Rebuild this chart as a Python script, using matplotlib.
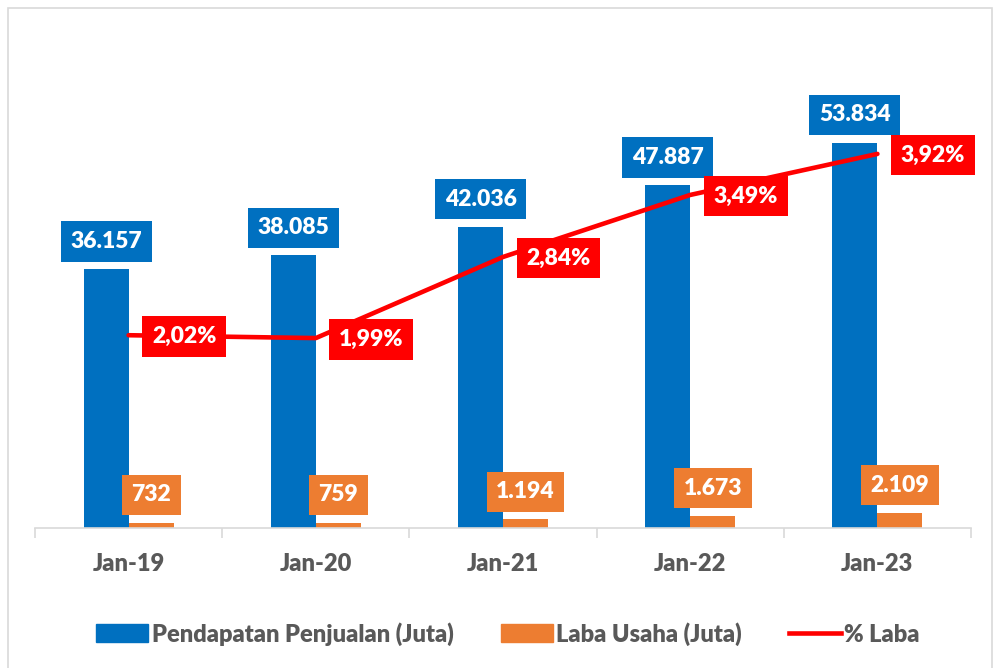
import matplotlib
matplotlib.use('Agg')
import matplotlib.pyplot as plt
import numpy as np
from matplotlib.patches import Rectangle
from matplotlib.lines import Line2D
from matplotlib.patches import Patch

plt.rcParams['font.family'] = ['Lato', 'DejaVu Sans']
plt.rcParams['font.weight'] = 'bold'

# data
categories = ["Jan-19", "Jan-20", "Jan-21", "Jan-22", "Jan-23"]
pendapatan = [36157, 38085, 42036, 47887, 53834]
laba = [732, 759, 1194, 1673, 2109]
persen_laba = [2.02, 1.99, 2.84, 3.49, 3.92]
pendapatan_labels = ["36.157", "38.085", "42.036", "47.887", "53.834"]
laba_labels = ["732", "759", "1.194", "1.673", "2.109"]
persen_labels = ["2,02%", "1,99%", "2,84%", "3,49%", "3,92%"]

BLUE = "#0070C0"
ORANGE = "#ED7D31"
RED = "#FF0000"
GREY = "#595959"

fig = plt.figure(figsize=(10, 6.68), dpi=100)
# outer chart border
fig.add_artist(Rectangle((0.008, -0.01), 0.984, 0.998, transform=fig.transFigure,
                         fill=False, edgecolor="#D9D9D9", linewidth=1.2))

ax = fig.add_axes([0.035, 0.2096, 0.936, 0.75])
x = np.arange(len(categories))
w = 0.24

ax.bar(x - w / 2, pendapatan, width=w, color=BLUE, zorder=2)
ax.bar(x + w / 2, laba, width=w, color=ORANGE, zorder=2)
ax.set_xlim(-0.5, len(categories) - 0.5)
ax.set_ylim(0, 70000)

box = "square,pad=0.42"
for xi, v, lab in zip(x - w / 2, pendapatan, pendapatan_labels):
    ax.annotate(lab, (xi, v), xytext=(0, 20), textcoords="offset points",
                ha="center", va="center", color="white", fontsize=16.5, fontweight="heavy",
                bbox=dict(boxstyle=box, fc=BLUE, ec="none"), zorder=5)
for xi, v, lab in zip(x + w / 2, laba, laba_labels):
    ax.annotate(lab, (xi, v), xytext=(0, 20), textcoords="offset points",
                ha="center", va="center", color="white", fontsize=16.5, fontweight="heavy",
                bbox=dict(boxstyle=box, fc=ORANGE, ec="none"), zorder=5)

# spines / ticks
for s in ["top", "right", "left"]:
    ax.spines[s].set_visible(False)
ax.spines["bottom"].set_color("#D9D9D9")
ax.spines["bottom"].set_linewidth(1.2)
ax.set_yticks([])
ax.set_xticks(x)
ax.set_xticklabels(categories, color=GREY, fontsize=17, fontweight="heavy")
ax.tick_params(axis="x", which="major", length=0, pad=18)
ax.set_xticks(np.arange(-0.5, len(categories)), minor=True)
ax.tick_params(axis="x", which="minor", length=7, color="#D9D9D9", width=1.2)

ax2 = ax.twinx()
ax2.set_ylim(0, 5.25)
ax2.plot(x, persen_laba, color=RED, linewidth=3.3, solid_capstyle="round", zorder=3)
for xi, v, lab in zip(x, persen_laba, persen_labels):
    ax2.annotate(lab, (xi, v), xytext=(40, -1), textcoords="offset points",
                 ha="center", va="center", color="white", fontsize=16.5, fontweight="heavy",
                 bbox=dict(boxstyle=box, fc=RED, ec="none"), zorder=6)
ax2.set_yticks([])
for s in ["top", "right", "left", "bottom"]:
    ax2.spines[s].set_visible(False)

handles = [Patch(color=BLUE), Patch(color=ORANGE), Line2D([0], [0], color=RED, linewidth=3.3)]
fig.legend(handles, ["Pendapatan Penjualan (Juta)", "Laba Usaha (Juta)", "% Laba"],
           loc="center", bbox_to_anchor=(0.508, 0.051), ncol=3, frameon=False,
           labelcolor=GREY, handlelength=2.2, handleheight=0.8,
           handletextpad=0.15, columnspacing=2.0,
           prop={"weight": "heavy", "size": 17})

fig.savefig("out.png", dpi=100)
